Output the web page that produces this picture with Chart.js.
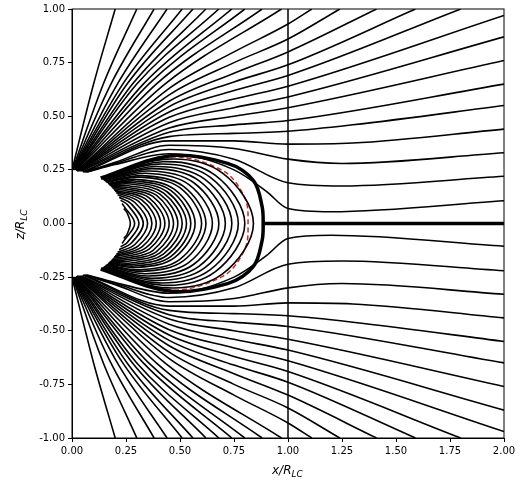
<!DOCTYPE html>
<html>
<head>
<meta charset="utf-8">
<script src="https://cdn.jsdelivr.net/npm/chart.js@4"></script>
<style>
  body { margin: 0; background: #fff; }
  #box { width: 520px; height: 481px; }
</style>
</head>
<body>
<div id="box"><canvas id="grafico"></canvas></div>
<script>
// ticks
const xTicks = [0, 0.25, 0.5, 0.75, 1, 1.25, 1.5, 1.75, 2];
const yTicks = [-1, -0.75, -0.5, -0.25, 0, 0.25, 0.5, 0.75, 1];

// open field lines reaching the top edge (upper half): start x on star, x at z=0.65, top x
const topStartX = [0.02, 0.018, 0.016, 0.014, 0.012, 0.01, 0.008, 0.006, 0.004, 0.003, 0.002, 0.0];
const topMidX   = [0.43, 0.39, 0.355, 0.33, 0.30, 0.28, 0.255, 0.235, 0.21, 0.18, 0.145, 0.10];
const topEndX   = [0.97, 0.88, 0.80, 0.74, 0.68, 0.62, 0.56, 0.51, 0.44, 0.38, 0.30, 0.20];

// open field lines passing the light cylinder (upper half), as [x, z] points
const openLines = [
  [[0.07,0.24],[0.2,0.275],[0.45,0.325],[0.75,0.25],[0.9,0.15],[1.0,0.07],[1.2,0.055],[2,0.106]],
  [[0.065,0.24],[0.2,0.28],[0.45,0.345],[0.75,0.30],[1.0,0.19],[1.25,0.175],[2,0.22]],
  [[0.06,0.24],[0.2,0.285],[0.45,0.365],[0.75,0.35],[1.0,0.30],[1.25,0.28],[2,0.33]],
  [[0.055,0.24],[0.45,0.385],[0.75,0.385],[1.0,0.37],[1.3,0.375],[2,0.44]],
  [[0.05,0.24],[0.45,0.405],[0.75,0.42],[1.0,0.43],[1.3,0.46],[2,0.55]],
  [[0.045,0.245],[0.45,0.425],[0.75,0.46],[1.0,0.48],[2,0.65]],
  [[0.04,0.245],[0.45,0.445],[0.75,0.50],[1.0,0.54],[2,0.76]],
  [[0.035,0.245],[0.45,0.47],[0.75,0.54],[1.0,0.59],[2,0.87]],
  [[0.03,0.245],[0.45,0.495],[0.75,0.58],[1.0,0.64],[2,0.97]],
  [[0.027,0.245],[0.45,0.52],[0.75,0.62],[1.0,0.69],[1.8,1]],
  [[0.025,0.245],[0.45,0.545],[0.75,0.66],[1.0,0.74],[1.59,1]],
  [[0.023,0.245],[0.45,0.57],[0.75,0.70],[1.0,0.80],[1.41,1]],
  [[0.022,0.245],[0.45,0.60],[0.75,0.75],[1.0,0.86],[1.24,1]],
  [[0.021,0.245],[0.45,0.63],[0.75,0.80],[1.0,0.93],[1.11,1]]
];

// closed loops: equator crossing, start on star, peak, shoulder
const loopEq     = [0.84,0.80,0.77,0.74,0.71,0.68,0.65,0.62,0.60,0.57,0.55,0.53,0.51,0.49,0.47,0.45,0.43,0.41,0.39,0.37,0.35,0.33,0.31,0.29,0.27];
const loopStartX = [0.136,0.140,0.142,0.145,0.148,0.152,0.155,0.159,0.161,0.166,0.169,0.172,0.175,0.179,0.182,0.186,0.191,0.195,0.200,0.205,0.211,0.218,0.225,0.232,0.240];
const loopStartZ = [0.210,0.207,0.206,0.204,0.201,0.199,0.196,0.193,0.191,0.187,0.184,0.181,0.179,0.175,0.171,0.167,0.162,0.156,0.150,0.143,0.134,0.122,0.109,0.093,0.070];
const loopPeakX  = [0.44,0.42,0.40,0.385,0.37,0.355,0.34,0.325,0.315,0.30,0.29,0.28,0.27,0.26,0.25,0.245,0.24,null,null,null,null,null,null,null,null];
const loopPeakZ  = [0.300,0.288,0.277,0.266,0.256,0.245,0.234,0.223,0.216,0.205,0.198,0.191,0.184,0.176,0.169,0.162,0.155,null,null,null,null,null,null,null,null];
const loopShX    = [0.697,0.664,0.639,0.614,0.589,0.564,0.540,0.515,0.498,0.473,0.457,0.440,0.423,0.407,0.390,0.374,0.357,0.340,0.324,0.307,0.291,0.274,0.257,0.241,0.255];
const loopShZ    = [0.235,0.224,0.216,0.207,0.199,0.190,0.182,0.174,0.168,0.160,0.154,0.148,0.143,0.137,0.132,0.126,0.120,0.115,0.109,0.104,0.098,0.092,0.087,0.080,0.050];

// last closed line (thick) and red dashed curve, upper half
const lastClosed = [[0.133,0.212],[0.45,0.315],[0.72,0.28],[0.84,0.2],[0.88,0.08],[0.885,0]];
const redCurve   = [[0.14,0.21],[0.45,0.31],[0.70,0.245],[0.8,0.12],[0.815,0]];

// current sheet and light cylinder
const sheetX = [0.885, 2];
const cylinderZ = [-1, 1];

function mirrored(upper) {
  // upper half, then back along the lower half
  let pts = upper.map(p => ({x: p[0], y: p[1]}));
  for (let i = upper.length - 2; i >= 0; i--) {
    pts.push({x: upper[i][0], y: -upper[i][1]});
  }
  return pts;
}

function linea(pts, larg, colore, extra) {
  return Object.assign({
    data: pts, showLine: true, pointRadius: 0, borderColor: colore,
    borderWidth: larg, tension: 0.35, fill: false
  }, extra || {});
}

let datasets = [];

for (let i = 0; i < openLines.length; i++) {
  let up = openLines[i].map(p => ({x: p[0], y: p[1]}));
  let down = openLines[i].map(p => ({x: p[0], y: -p[1]}));
  datasets.push(linea(up, 1.6, '#000', {cubicInterpolationMode: 'monotone'}));
  datasets.push(linea(down, 1.6, '#000', {cubicInterpolationMode: 'monotone'}));
}
for (let i = 0; i < topEndX.length; i++) {
  for (const s of [1, -1]) {
    datasets.push(linea([
      {x: topStartX[i], y: 0.25 * s},
      {x: topMidX[i], y: 0.65 * s},
      {x: topEndX[i], y: 1 * s}
    ], 1.6, '#000', {cubicInterpolationMode: 'monotone'}));
  }
}
for (let i = 0; i < loopEq.length; i++) {
  let up = [[loopStartX[i], loopStartZ[i]]];
  if (loopPeakX[i] !== null) up.push([loopPeakX[i], loopPeakZ[i]]);
  up.push([loopShX[i], loopShZ[i]]);
  up.push([loopEq[i], 0]);
  datasets.push(linea(mirrored(up), 1.6, '#000'));
}
datasets.push(linea(mirrored(lastClosed), 3.5, '#000'));
datasets.push(linea(mirrored(redCurve), 1.5, '#d62728', {borderDash: [5, 3]}));
datasets.push(linea([{x: sheetX[0], y: 0}, {x: sheetX[1], y: 0}], 3.5, '#000', {tension: 0}));
datasets.push(linea([{x: 1, y: cylinderZ[0]}, {x: 1, y: cylinderZ[1]}], 1.5, '#000', {tension: 0}));

const etichette = {
  id: 'etichette',
  afterDraw(chart) {
    const c = chart.ctx;
    const a = chart.chartArea;
    c.save();
    c.fillStyle = '#000';
    c.strokeStyle = '#000';
    c.lineWidth = 1;
    c.strokeRect(a.left, a.top, a.right - a.left, a.bottom - a.top);
    // x label
    c.font = 'italic 12px "DejaVu Sans"';
    let cx = (a.left + a.right) / 2 - 16;
    let cy = a.bottom + 36;
    c.textBaseline = 'alphabetic';
    c.fillText('x/R', cx, cy);
    let w = c.measureText('x/R').width;
    c.font = 'italic 9px "DejaVu Sans"';
    c.fillText('LC', cx + w, cy + 3);
    // y label
    c.translate(a.left - 48, (a.top + a.bottom) / 2 + 16);
    c.rotate(-Math.PI / 2);
    c.font = 'italic 12px "DejaVu Sans"';
    c.fillText('z/R', 0, 0);
    w = c.measureText('z/R').width;
    c.font = 'italic 9px "DejaVu Sans"';
    c.fillText('LC', w, 3);
    c.restore();
  }
};

new Chart('grafico', {
  type: 'scatter',
  data: {datasets: datasets},
  plugins: [etichette],
  options: {
    responsive: true, maintainAspectRatio: false, animation: false,
    layout: {padding: {top: 6, right: 16}},
    plugins: {legend: {display: false}, tooltip: {enabled: false}},
    scales: {
      x: {
        type: 'linear', min: 0, max: 2,
        afterBuildTicks: s => { s.ticks = xTicks.map(v => ({value: v})); },
        afterFit: s => { s.height = 43; },
        grid: {drawOnChartArea: false, color: '#000', tickLength: 4},
        border: {color: '#000', width: 1},
        ticks: {color: '#000', font: {family: 'DejaVu Sans', size: 10}, callback: v => v.toFixed(2), maxRotation: 0}
      },
      y: {
        type: 'linear', min: -1, max: 1,
        afterBuildTicks: s => { s.ticks = yTicks.map(v => ({value: v})); },
        afterFit: s => { s.width = 72; },
        grid: {drawOnChartArea: false, color: '#000', tickLength: 4},
        border: {color: '#000', width: 1},
        ticks: {color: '#000', font: {family: 'DejaVu Sans', size: 10}, callback: v => v.toFixed(2)}
      }
    }
  }
});
</script>
</body>
</html>
